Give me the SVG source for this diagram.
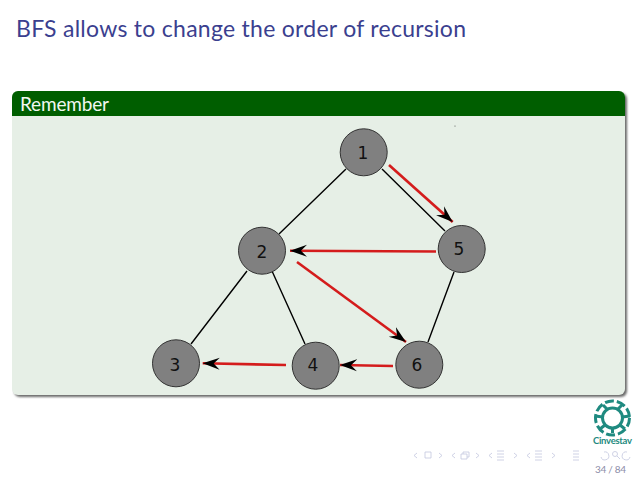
<svg xmlns="http://www.w3.org/2000/svg" width="638" height="479" viewBox="0 0 638 479">
<defs>
<marker id="ah" markerUnits="userSpaceOnUse" markerWidth="18" markerHeight="14" refX="17" refY="7" orient="auto"><path d="M0 1L17 7L0 13L6 7Z" fill="#000"/></marker>
<filter id="sh" x="-5%" y="-5%" width="110%" height="110%"><feGaussianBlur stdDeviation="1.3"/></filter>
</defs>
<style>
text{font-family:"Lato","DejaVu Sans",sans-serif}
.n circle{fill:#808080;stroke:#333;stroke-width:1}
.n text{font-family:"DejaVu Sans",sans-serif;font-size:17px;fill:#111;text-anchor:middle}
.e{stroke:#000;stroke-width:1.4;fill:none}
.r{stroke:#d41c1c;stroke-width:2.6;fill:none;marker-end:url(#ah)}
.nav{stroke:#c3c6de;stroke-width:.8;fill:none}
.l{stroke:#1f8a80;fill:none;stroke-width:3}
</style>
<rect width="638" height="479" fill="#fff"/>
<text x="16" y="37" font-size="23" fill="#3b3f8f" textLength="450" lengthAdjust="spacing">BFS allows to change the order of recursion</text>
<rect x="14" y="93" width="613" height="304" rx="6" fill="#6b6b6b" filter="url(#sh)"/>
<rect x="12" y="91" width="613" height="304" rx="6" fill="#e6efe6"/>
<path d="M12 116V97a6 6 0 0 1 6-6H619a6 6 0 0 1 6 6V116Z" fill="#005e00"/>
<text x="20" y="111" font-size="19" fill="#f2f7f2" textLength="89" lengthAdjust="spacing">Remember</text>
<circle cx="455" cy="126" r=".6" fill="#555"/>
<g id="connectors">
<path class="e" d="M346 169L279 234M382 169L445 231M247 271L191 344M272 271L305 344M454 272L428 342"/>
<path class="r" d="M389 165L452.700 222"/>
<path class="r" d="M436 251.500L290 250.700"/>
<path class="r" d="M297 262L406 342"/>
<path class="r" d="M286 365L202.700 363.300"/>
<path class="r" d="M393 366L340 365"/>
</g>
<g id="node1" class="n"><circle cx="363.700" cy="152.300" r="23.500"/><text x="363" y="159">1</text></g>
<g id="node2" class="n"><circle cx="262" cy="250.700" r="23.500"/><text x="262" y="258">2</text></g>
<g id="node3" class="n"><circle cx="176" cy="363.300" r="23.500"/><text x="175" y="371">3</text></g>
<g id="node4" class="n"><circle cx="315.700" cy="365.700" r="23.500"/><text x="313" y="371">4</text></g>
<g id="node5" class="n"><circle cx="461.700" cy="249" r="23.500"/><text x="459" y="255">5</text></g>
<g id="node6" class="n"><circle cx="419.300" cy="364.700" r="23.500"/><text x="417" y="371">6</text></g>
<g id="logo">
<circle class="l" cx="612.500" cy="418" r="10"/>
<path class="l" d="M603 405l5 5M622 405l-5 5M595 416l8 1M630 416l-8 1M600 429l5-4M625 429l-5-4M612.500 433v-5"/>
<circle class="l" cx="612.500" cy="418" r="17" stroke-dasharray="9 3"/>
<text x="612.500" y="444" font-size="9.500" font-weight="700" fill="#1f8a80" text-anchor="middle" textLength="39" lengthAdjust="spacing">Cinvestav</text>
</g>
<g id="nav">
<path class="nav" d="M417 453l-3 2.500 3 2.500M425 452h6v6h-6zM439 453l3 2.500-3 2.500M455 453l-3 2.500 3 2.500M461 454h6v5h-6zM463 454v-2h6v5h-2M476 453l3 2.500-3 2.500M492 453l-3 2.500 3 2.500M497 451h7M497 454h7M497 457h7M497 460h7M514 453l3 2.500-3 2.500M530 453l-3 2.500 3 2.500M535 451h7M535 454h7M535 457h7M535 460h7M552 453l3 2.500-3 2.500M573 451h6M573 454h6M573 457h6M573 460h6M604 452a4 4 0 1 1-3 5M627 452a4 4 0 1 0 3 5"/>
<circle class="nav" cx="615" cy="454" r="2.500"/>
<path class="nav" d="M617 456l3 3"/>
<text x="610.500" y="473" font-size="10" fill="#8c8ca8" text-anchor="middle" textLength="31" lengthAdjust="spacing">34 / 84</text>
</g>
</svg>
